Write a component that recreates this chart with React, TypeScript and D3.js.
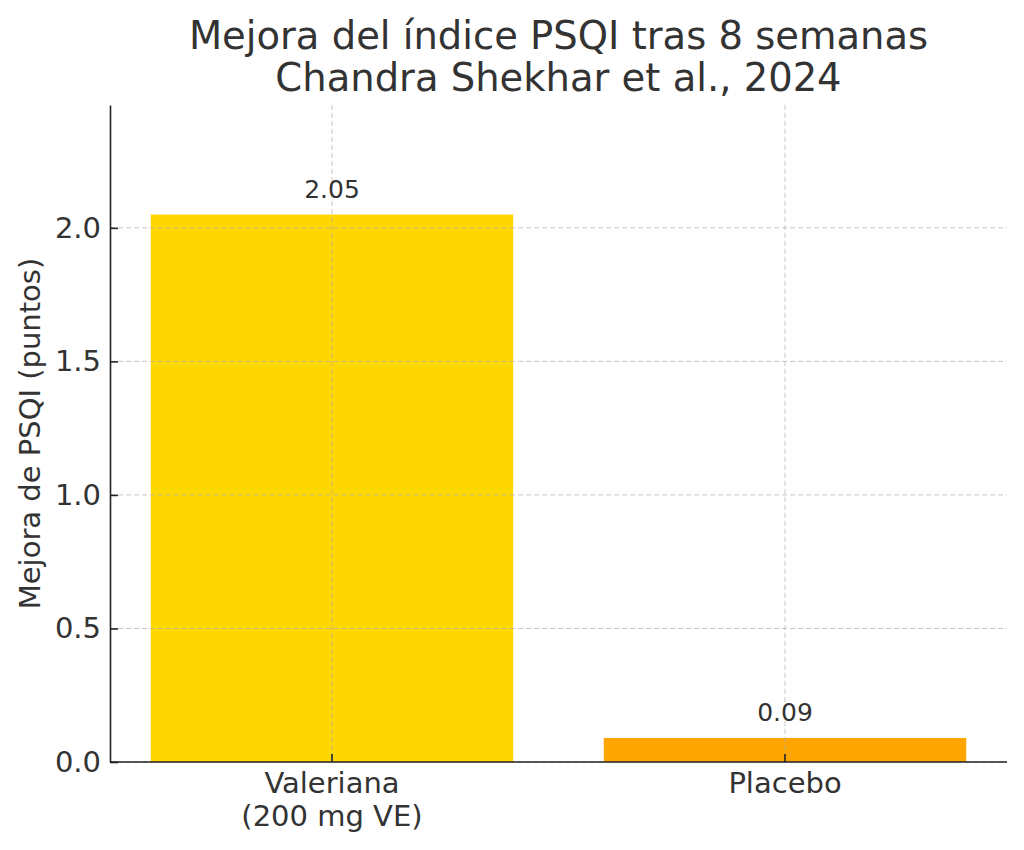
import { useEffect, useRef } from "react";
import * as d3 from "d3";

const categories = ["Valeriana\n(200 mg VE)", "Placebo"];
const values = [2.05, 0.09];
const valueLabels = ["2.05", "0.09"];
const barColors = ["#FFD700", "#FFA500"];
const yTicks = [0, 0.5, 1.0, 1.5, 2.0];
const titleLines = ["Mejora del índice PSQI tras 8 semanas", "Chandra Shekhar et al., 2024"];
const yLabel = "Mejora de PSQI (puntos)";

const W = 1024;
const H = 850;
const FONT = "'DejaVu Sans', sans-serif";
const INK = "#333333";

export default function App() {
  const ref = useRef<SVGSVGElement>(null);

  useEffect(() => {
    if (!ref.current) return;
    const svg = d3.select(ref.current);
    svg.selectAll("*").remove();

    const left = 110;
    const right = 1007;
    const top = 105;
    const bottom = 762;

    const x = d3.scaleLinear().domain([-0.49, 1.49]).range([left, right]);
    const y = d3.scaleLinear().domain([0, 2.46]).range([bottom, top]);
    const barW = x(0.8) - x(0);

    svg.append("rect").attr("width", W).attr("height", H).attr("fill", "#fff");

    // bars
    svg
      .selectAll(".bar")
      .data(values)
      .enter()
      .append("rect")
      .attr("x", (_, i) => x(i) - barW / 2)
      .attr("y", (d) => y(d))
      .attr("width", barW)
      .attr("height", (d) => y(0) - y(d))
      .attr("fill", (_, i) => barColors[i]);

    // grid
    const grid = svg.append("g").attr("stroke", "#b0b0b0").attr("stroke-opacity", 0.7).attr("stroke-dasharray", "5,3").attr("stroke-width", 1);
    yTicks.forEach((t) => {
      grid.append("line").attr("x1", left).attr("x2", right).attr("y1", y(t)).attr("y2", y(t));
    });
    categories.forEach((_, i) => {
      grid.append("line").attr("x1", x(i)).attr("x2", x(i)).attr("y1", top).attr("y2", bottom);
    });

    // y axis
    const yAxis = svg
      .append("g")
      .attr("transform", `translate(${left},0)`)
      .call(d3.axisLeft(y).tickValues(yTicks).tickFormat(d3.format(".1f")).tickSizeInner(-8).tickSizeOuter(0).tickPadding(9));
    yAxis.select(".domain").attr("stroke", "#222").attr("stroke-width", 1.6);
    yAxis.selectAll(".tick line").attr("stroke", "#222").attr("stroke-width", 1.6);
    yAxis.selectAll("text").attr("font-family", FONT).attr("font-size", 29).attr("fill", INK);

    // x axis
    const xAxis = svg.append("g").attr("transform", `translate(0,${bottom})`);
    xAxis.append("line").attr("x1", left).attr("x2", right).attr("stroke", "#222").attr("stroke-width", 1.6);
    categories.forEach((c, i) => {
      xAxis.append("line").attr("x1", x(i)).attr("x2", x(i)).attr("y1", 0).attr("y2", -8).attr("stroke", "#222").attr("stroke-width", 1.6);
      const t = xAxis
        .append("text")
        .attr("x", x(i))
        .attr("text-anchor", "middle")
        .attr("font-family", FONT)
        .attr("font-size", 29)
        .attr("fill", INK);
      c.split("\n").forEach((line, j) => {
        t.append("tspan").attr("x", x(i)).attr("y", 31 + j * 33).text(line);
      });
    });

    // value labels
    svg
      .selectAll(".vl")
      .data(values)
      .enter()
      .append("text")
      .attr("x", (_, i) => x(i))
      .attr("y", (d) => y(d) - 17)
      .attr("text-anchor", "middle")
      .attr("font-family", FONT)
      .attr("font-size", 25)
      .attr("fill", INK)
      .text((_, i) => valueLabels[i]);

    // y label
    svg
      .append("text")
      .attr("transform", `translate(40,${(top + bottom) / 2}) rotate(-90)`)
      .attr("text-anchor", "middle")
      .attr("font-family", FONT)
      .attr("font-size", 29)
      .attr("fill", INK)
      .text(yLabel);

    // title
    titleLines.forEach((line, j) => {
      svg
        .append("text")
        .attr("x", (left + right) / 2)
        .attr("y", 49 + j * 42)
        .attr("text-anchor", "middle")
        .attr("font-family", FONT)
        .attr("font-size", 38.5)
        .attr("fill", INK)
        .text(line);
    });
  }, []);

  return <svg ref={ref} width={W} height={H} style={{ display: "block", margin: "-8px" }} />;
}
